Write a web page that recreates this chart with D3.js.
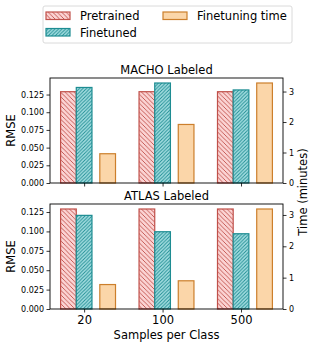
<!DOCTYPE html>
<html lang="en">
<head>
<meta charset="utf-8">
<script src="https://cdnjs.cloudflare.com/ajax/libs/d3/7.8.5/d3.min.js"></script>
<style>
  body { margin: 0; background: #fff; }
  svg text { font-family: "DejaVu Sans", sans-serif; fill: #000; }
</style>
</head>
<body>
<div id="chart"></div>
<script>
    // data
    var samples = ["20", "100", "500"];
    var machoPretrained = [0.129, 0.129, 0.129];
    var machoFinetuned = [0.135, 0.1413, 0.1315];
    var machoTime = [0.96, 1.92, 3.28];
    var atlasPretrained = [0.1289, 0.1289, 0.1289];
    var atlasFinetuned = [0.1207, 0.0996, 0.097];
    var atlasTime = [0.78, 0.9, 3.19];
    var rmseTicks = [0, 0.025, 0.05, 0.075, 0.1, 0.125];
    var timeTicks = [0, 1, 2, 3];

    var W = 315, H = 347;
    var svg = d3.select("#chart").append("svg")
        .attr("width", W).attr("height", H);

    var defs = svg.append("defs");
    function hatch(id, fill, stroke, size, dir) {
        var p = defs.append("pattern").attr("id", id)
            .attr("patternUnits", "userSpaceOnUse")
            .attr("width", size).attr("height", size);
        p.append("rect").attr("width", size).attr("height", size).attr("fill", fill);
        var d = dir > 0
            ? "M0," + size + "L" + size + ",0M-1,1L1,-1M" + (size - 1) + "," + (size + 1) + "L" + (size + 1) + "," + (size - 1)
            : "M0,0L" + size + "," + size + "M-1," + (size - 1) + "L1," + (size + 1) + "M" + (size - 1) + ",-1L" + (size + 1) + ",1";
        p.append("path").attr("d", d).attr("stroke", stroke).attr("stroke-width", 0.9);
    }
    var preEdge = "#c0504a", preFill = "#fbd3d3";
    var fineEdge = "#1d8c92", fineFill = "#a6dfe2";
    var timeEdge = "#cc7f2c", timeFill = "#fbd6a9";
    hatch("hPre", preFill, preEdge, 4.5, -1);
    hatch("hFine", fineFill, fineEdge, 3.5, 1);

    var left = 50, right = 283;
    var x = d3.scaleLinear().domain([-0.435, 2.535]).range([left, right]);
    var bw = x(0.2) - x(0);
    var labelSize = "11.5px";

    function panel(top, bottom, title, pre, fine, time, showX) {
        var y = d3.scaleLinear().domain([0, d3.max(pre.concat(fine)) * 1.05]).range([bottom, top]);
        var y2 = d3.scaleLinear().domain([0, d3.max(time) * 1.05]).range([bottom, top]);
        var g = svg.append("g");

        g.selectAll(".pre").data(pre).enter().append("rect")
            .attr("x", function(d, i) { return x(i - 0.3); })
            .attr("y", function(d) { return y(d); })
            .attr("width", bw)
            .attr("height", function(d) { return bottom - y(d); })
            .attr("fill", "url(#hPre)").attr("stroke", preEdge).attr("stroke-width", 1.2);
        g.selectAll(".fine").data(fine).enter().append("rect")
            .attr("x", function(d, i) { return x(i - 0.1); })
            .attr("y", function(d) { return y(d); })
            .attr("width", bw)
            .attr("height", function(d) { return bottom - y(d); })
            .attr("fill", "url(#hFine)").attr("stroke", fineEdge).attr("stroke-width", 1.2);
        g.selectAll(".time").data(time).enter().append("rect")
            .attr("x", function(d, i) { return x(i + 0.2); })
            .attr("y", function(d) { return y2(d); })
            .attr("width", bw)
            .attr("height", function(d) { return bottom - y2(d); })
            .attr("fill", timeFill).attr("stroke", timeEdge).attr("stroke-width", 1.2);

        // axes
        var ax = g.append("g").attr("transform", "translate(0," + bottom + ")")
            .call(d3.axisBottom(x).tickValues([0, 1, 2]).tickSize(3.5).tickPadding(3)
                .tickFormat(function(d) { return showX ? samples[d] : ""; }));
        ax.selectAll("text").style("font-size", labelSize);
        var ay = g.append("g").attr("transform", "translate(" + left + ",0)")
            .call(d3.axisLeft(y).tickValues(rmseTicks).tickSize(3.5).tickPadding(2.5)
                .tickFormat(d3.format(".3f")));
        ay.selectAll("text").style("font-size", "8px");
        var ay2 = g.append("g").attr("transform", "translate(" + right + ",0)")
            .call(d3.axisRight(y2).tickValues(timeTicks).tickSize(3.5).tickPadding(2.5)
                .tickFormat(d3.format("d")));
        ay2.selectAll("text").style("font-size", "8px");
        g.selectAll(".domain").remove();
        g.selectAll(".tick line").attr("stroke", "#000").attr("stroke-width", 0.8);

        g.append("rect").attr("x", left).attr("y", top)
            .attr("width", right - left).attr("height", bottom - top)
            .attr("fill", "none").attr("stroke", "#000").attr("stroke-width", 0.9);

        g.append("text").attr("x", (left + right) / 2).attr("y", top - 4)
            .attr("text-anchor", "middle").style("font-size", labelSize).text(title);
        g.append("text").attr("transform", "translate(15," + (top + bottom) / 2 + ") rotate(-90)")
            .attr("text-anchor", "middle").style("font-size", labelSize).text("RMSE");
    }

    panel(78, 183, "MACHO Labeled", machoPretrained, machoFinetuned, machoTime, false);
    panel(204, 309, "ATLAS Labeled", atlasPretrained, atlasFinetuned, atlasTime, true);

    svg.append("text").attr("x", (left + right) / 2).attr("y", 339)
        .attr("text-anchor", "middle").style("font-size", labelSize).text("Samples per Class");
    svg.append("text").attr("transform", "translate(307,192) rotate(-90)")
        .attr("text-anchor", "middle").style("font-size", labelSize).text("Time (minutes)");

    // legend
    var lg = svg.append("g");
    lg.append("rect").attr("x", 43).attr("y", 6).attr("width", 249).attr("height", 37)
        .attr("rx", 2).attr("fill", "#fff").attr("stroke", "#d6d6d6").attr("stroke-width", 0.9);
    var items = [
        { name: "Pretrained", fill: "url(#hPre)", edge: preEdge, px: 46, py: 12 },
        { name: "Finetuned", fill: "url(#hFine)", edge: fineEdge, px: 46, py: 28.5 },
        { name: "Finetuning time", fill: timeFill, edge: timeEdge, px: 163, py: 12 }
    ];
    items.forEach(function(it) {
        lg.append("rect").attr("x", it.px).attr("y", it.py).attr("width", 24).attr("height", 7.5)
            .attr("fill", it.fill).attr("stroke", it.edge).attr("stroke-width", 1.2);
        lg.append("text").attr("x", it.px + 34).attr("y", it.py + 8)
            .style("font-size", labelSize).text(it.name);
    });
</script>
</body>
</html>
